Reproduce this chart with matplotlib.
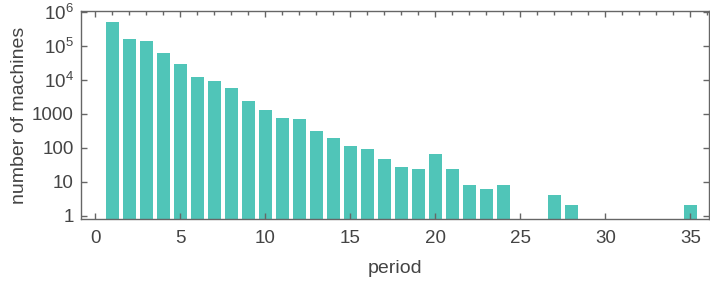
import matplotlib
matplotlib.use('Agg')
import matplotlib.pyplot as plt
from matplotlib.ticker import MultipleLocator, LogLocator, NullFormatter

plt.rcParams['font.family'] = ['Liberation Sans', 'DejaVu Sans']
plt.rcParams['mathtext.fontset'] = 'custom'
plt.rcParams['mathtext.rm'] = 'Liberation Sans'
plt.rcParams['mathtext.it'] = 'Liberation Sans'

# period -> number of machines
period = [1, 2, 3, 4, 5, 6, 7, 8, 9, 10, 11, 12, 13, 14, 15, 16, 17, 18,
          19, 20, 21, 22, 23, 24, 27, 28, 35]
machines = [500000, 157000, 137000, 61000, 29000, 12000, 9200, 5700, 2400,
            1290, 750, 700, 310, 193, 112, 92, 47, 27, 24, 65, 24, 8, 6, 8,
            4, 2, 2]

ytick_vals = [1, 10, 100, 1000, 1e4, 1e5, 1e6]
ytick_labs = ['1', '10', '100', '1000', r'$10^4$', r'$10^5$', r'$10^6$']

bar_col = '#50c5b8'
frame_col = '#666666'
text_col = '#444444'

fig = plt.figure(figsize=(7.1, 2.84), dpi=100)
ax = fig.add_axes([0.114, 0.228, 0.8846, 0.7342])

ax.bar(period, machines, width=0.78, color=bar_col)
ax.set_yscale('log')
ax.set_xlim(-0.85, 36.09)
ax.set_ylim(10 ** -0.106, 10 ** 6.03)

ax.set_xticks([0, 5, 10, 15, 20, 25, 30, 35])
ax.xaxis.set_minor_locator(MultipleLocator(1))
ax.set_yticks(ytick_vals, ytick_labs)
ax.yaxis.set_minor_locator(LogLocator(base=10, subs=range(2, 10)))
ax.yaxis.set_minor_formatter(NullFormatter())

ax.tick_params(axis='both', which='both', direction='in', colors=frame_col,
               labelcolor=text_col, labelsize=13.5, width=1)
ax.tick_params(axis='x', which='major', top=True, bottom=True, length=4.5, pad=8)
ax.tick_params(axis='x', which='minor', top=True, bottom=False, length=3)
ax.tick_params(axis='y', which='major', left=True, right=True, length=4, pad=5)
ax.tick_params(axis='y', which='minor', left=True, right=True, length=2.5)

for s in ax.spines.values():
    s.set_color(frame_col)
    s.set_linewidth(1)

ax.set_xlabel('period', fontsize=14, color=text_col, labelpad=9)
ax.set_ylabel('number of machines', fontsize=14, color=text_col, labelpad=3)

fig.savefig('out.png', dpi=100)
